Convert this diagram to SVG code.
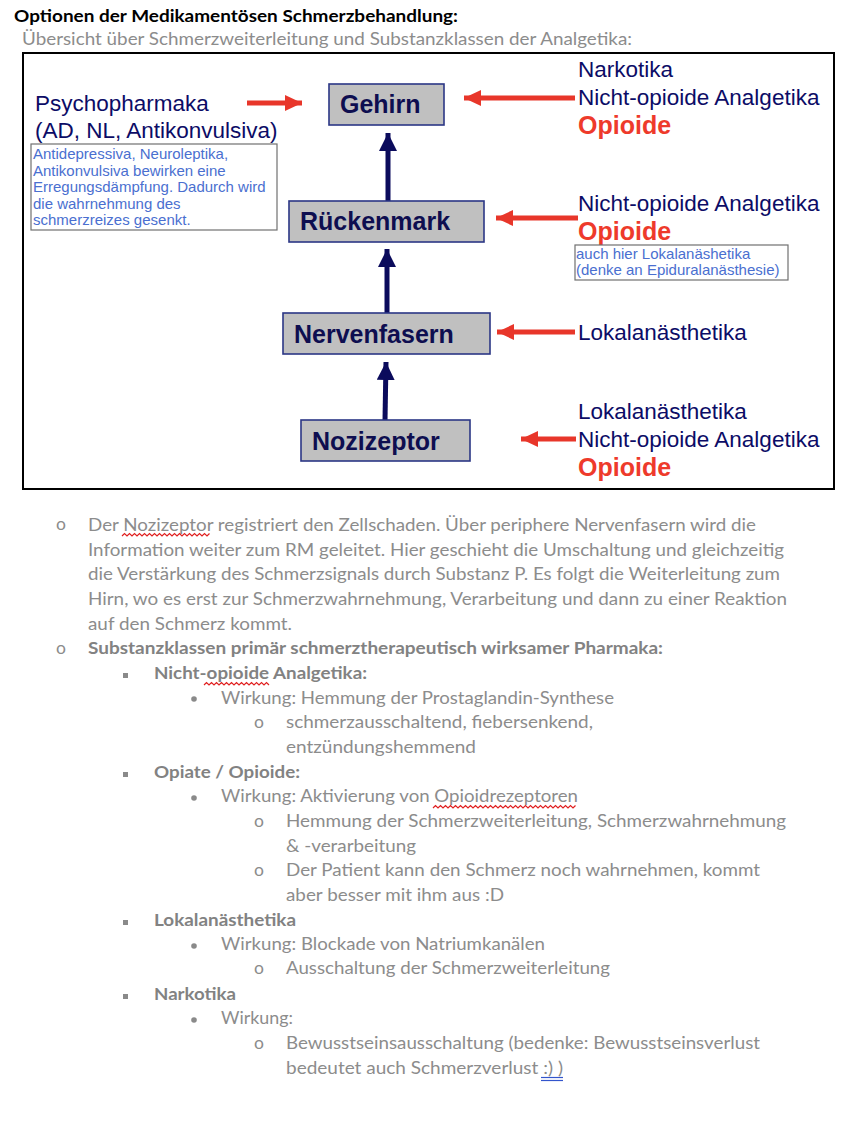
<svg xmlns="http://www.w3.org/2000/svg" width="868" height="1122" viewBox="0 0 868 1122">
<defs>
<marker id="redhead" markerUnits="userSpaceOnUse" markerWidth="18" markerHeight="18" refX="17" refY="8" orient="auto"><path d="M0,0 L17,8 L0,16 Z" fill="#e8362a"/></marker>
<marker id="navyhead" markerUnits="userSpaceOnUse" markerWidth="20" markerHeight="20" refX="18" refY="9" orient="auto"><path d="M0,0 L18,9 L0,18 Z" fill="#0b0b5c"/></marker>
</defs>
<style>
.doc{font-family:Lato,"Open Sans",sans-serif;font-size:17.5px;fill:#8c8c8c}
.docb{font-family:Lato,"Open Sans",sans-serif;font-size:17.5px;fill:#828282;font-weight:bold}
.box{fill:#c0c0c0;stroke:#2b3685;stroke-width:1.6}
.lbl{font-family:"Liberation Sans",Arial,sans-serif;font-size:25px;font-weight:bold;fill:#0e0e50}
.rt{font-family:"Liberation Sans",Arial,sans-serif;font-size:22.5px;fill:#0c0c66}
.op{font-family:"Liberation Sans",Arial,sans-serif;font-size:25px;font-weight:bold;fill:#ee3a2b}
.note{font-family:"Liberation Sans",Arial,sans-serif;font-size:15px;fill:#4a6fd0}
.nbox{fill:#ffffff;stroke:#707070;stroke-width:1.2}
.red{stroke:#e8362a;stroke-width:5;fill:none}
.navy{stroke:#0b0b5c;stroke-width:5;fill:none}
.wavy{stroke:#e02020;stroke-width:1.2;fill:none}
</style>
<rect width="868" height="1122" fill="#ffffff"/>
<text x="14" y="22" font-family="Lato,'Open Sans',sans-serif" font-size="17.5" font-weight="bold" fill="#000000" textLength="444" lengthAdjust="spacingAndGlyphs">Optionen der Medikamentösen Schmerzbehandlung:</text>
<text x="22" y="45" class="doc" fill="#909090" textLength="610" lengthAdjust="spacingAndGlyphs">Übersicht über Schmerzweiterleitung und Substanzklassen der Analgetika:</text>
<rect x="23" y="53" width="811" height="436" fill="#ffffff" stroke="#000000" stroke-width="2"/>

<g id="connectors">
<line class="red" x1="247" y1="103" x2="302" y2="103" marker-end="url(#redhead)"/>
<line class="red" x1="575" y1="98" x2="464" y2="98" marker-end="url(#redhead)"/>
<line class="red" x1="578" y1="218" x2="496" y2="218" marker-end="url(#redhead)"/>
<line class="red" x1="575" y1="332" x2="497" y2="332" marker-end="url(#redhead)"/>
<line class="red" x1="576" y1="439" x2="521" y2="439" marker-end="url(#redhead)"/>
<line class="navy" x1="388" y1="201" x2="388" y2="133" marker-end="url(#navyhead)"/>
<line class="navy" x1="387" y1="313" x2="387" y2="249" marker-end="url(#navyhead)"/>
<line class="navy" x1="385" y1="420" x2="386" y2="362" marker-end="url(#navyhead)"/>
</g>

<g id="gehirn"><rect class="box" x="329" y="84" width="115" height="41"/><text class="lbl" x="340" y="113">Gehirn</text></g>
<g id="rueckenmark"><rect class="box" x="289" y="201" width="195" height="41"/><text class="lbl" x="300" y="230">Rückenmark</text></g>
<g id="nervenfasern"><rect class="box" x="283" y="313" width="207" height="41"/><text class="lbl" x="294" y="343">Nervenfasern</text></g>
<g id="nozizeptor"><rect class="box" x="301" y="420" width="169" height="41"/><text class="lbl" x="312" y="450">Nozizeptor</text></g>

<g id="psycho">
<text class="rt" x="35" y="111">Psychopharmaka</text>
<text class="rt" x="35" y="138">(AD, NL, Antikonvulsiva)</text>
<rect class="nbox" x="31" y="144" width="246" height="86"/>
<text class="note" x="33" y="159">Antidepressiva, Neuroleptika,</text>
<text class="note" x="33" y="175.5">Antikonvulsiva bewirken eine</text>
<text class="note" x="33" y="192">Erregungsdämpfung. Dadurch wird</text>
<text class="note" x="33" y="208.5">die wahrnehmung des</text>
<text class="note" x="33" y="225">schmerzreizes gesenkt.</text>
</g>
<g id="gehirn-drugs">
<text class="rt" x="578" y="77">Narkotika</text>
<text class="rt" x="578" y="105">Nicht-opioide Analgetika</text>
<text class="op" x="578" y="134">Opioide</text>
</g>
<g id="rm-drugs">
<text class="rt" x="578" y="211">Nicht-opioide Analgetika</text>
<text class="op" x="578" y="240">Opioide</text>
<rect class="nbox" x="575" y="245" width="213" height="35"/>
<text class="note" x="576" y="259">auch hier Lokalanäshetika</text>
<text class="note" x="576" y="275">(denke an Epiduralanästhesie)</text>
</g>
<g id="nf-drugs"><text class="rt" x="578" y="340">Lokalanästhetika</text></g>
<g id="noz-drugs">
<text class="rt" x="578" y="419">Lokalanästhetika</text>
<text class="rt" x="578" y="447">Nicht-opioide Analgetika</text>
<text class="op" x="578" y="476">Opioide</text>
</g>

<g id="document">
<text class="doc" x="56" y="530" font-size="14">o</text>
<text class="doc" x="88" y="531" textLength="668" lengthAdjust="spacingAndGlyphs">Der Nozizeptor registriert den Zellschaden. Über periphere Nervenfasern wird die</text>
<path class="wavy" d="M122,536 l2.5,-2.5 l2.5,2.5 l2.5,-2.5 l2.5,2.5 l2.5,-2.5 l2.5,2.5 l2.5,-2.5 l2.5,2.5 l2.5,-2.5 l2.5,2.5 l2.5,-2.5 l2.5,2.5 l2.5,-2.5 l2.5,2.5 l2.5,-2.5 l2.5,2.5 l2.5,-2.5 l2.5,2.5 l2.5,-2.5 l2.5,2.5 l2.5,-2.5 l2.5,2.5 l2.5,-2.5 l2.5,2.5 l2.5,-2.5 l2.5,2.5 l2.5,-2.5 l2.5,2.5 l2.5,-2.5 l2.5,2.5 l2.5,-2.5 l2.5,2.5 l2.5,-2.5 l2.5,2.5 l2.5,-2.5"/>
<text class="doc" x="88" y="556" textLength="696" lengthAdjust="spacingAndGlyphs">Information weiter zum RM geleitet. Hier geschieht die Umschaltung und gleichzeitig</text>
<text class="doc" x="88" y="580" textLength="692" lengthAdjust="spacingAndGlyphs">die Verstärkung des Schmerzsignals durch Substanz P. Es folgt die Weiterleitung zum</text>
<text class="doc" x="88" y="605" textLength="699" lengthAdjust="spacingAndGlyphs">Hirn, wo es erst zur Schmerzwahrnehmung, Verarbeitung und dann zu einer Reaktion</text>
<text class="doc" x="88" y="630" textLength="204" lengthAdjust="spacingAndGlyphs">auf den Schmerz kommt.</text>
<text class="doc" x="56" y="654" font-size="14">o</text>
<text class="docb" x="88" y="654" textLength="575" lengthAdjust="spacingAndGlyphs">Substanzklassen primär schmerztherapeutisch wirksamer Pharmaka:</text>

<rect x="123" y="673" width="5" height="5" fill="#8a8a8a"/>
<text class="docb" x="154" y="679" textLength="213" lengthAdjust="spacingAndGlyphs">Nicht-opioide Analgetika:</text>
<path class="wavy" d="M204,685 l2.5,-2.5 l2.5,2.5 l2.5,-2.5 l2.5,2.5 l2.5,-2.5 l2.5,2.5 l2.5,-2.5 l2.5,2.5 l2.5,-2.5 l2.5,2.5 l2.5,-2.5 l2.5,2.5 l2.5,-2.5 l2.5,2.5 l2.5,-2.5 l2.5,2.5 l2.5,-2.5 l2.5,2.5 l2.5,-2.5 l2.5,2.5 l2.5,-2.5 l2.5,2.5 l2.5,-2.5 l2.5,2.5 l2.5,-2.5 l2.5,2.5"/>
<circle cx="194" cy="699" r="2.8" fill="#8a8a8a"/>
<text class="doc" x="221" y="704" textLength="393" lengthAdjust="spacingAndGlyphs">Wirkung: Hemmung der Prostaglandin-Synthese</text>
<text class="doc" x="254" y="728" font-size="14">o</text>
<text class="doc" x="286" y="728" textLength="307" lengthAdjust="spacingAndGlyphs">schmerzausschaltend, fiebersenkend,</text>
<text class="doc" x="286" y="753" textLength="190" lengthAdjust="spacingAndGlyphs">entzündungshemmend</text>

<rect x="123" y="772" width="5" height="5" fill="#8a8a8a"/>
<text class="docb" x="154" y="778" textLength="146" lengthAdjust="spacingAndGlyphs">Opiate / Opioide:</text>
<circle cx="194" cy="798" r="2.8" fill="#8a8a8a"/>
<text class="doc" x="221" y="802" textLength="357" lengthAdjust="spacingAndGlyphs">Wirkung: Aktivierung von Opioidrezeptoren</text>
<path class="wavy" d="M433,808 l2.5,-2.5 l2.5,2.5 l2.5,-2.5 l2.5,2.5 l2.5,-2.5 l2.5,2.5 l2.5,-2.5 l2.5,2.5 l2.5,-2.5 l2.5,2.5 l2.5,-2.5 l2.5,2.5 l2.5,-2.5 l2.5,2.5 l2.5,-2.5 l2.5,2.5 l2.5,-2.5 l2.5,2.5 l2.5,-2.5 l2.5,2.5 l2.5,-2.5 l2.5,2.5 l2.5,-2.5 l2.5,2.5 l2.5,-2.5 l2.5,2.5 l2.5,-2.5 l2.5,2.5 l2.5,-2.5 l2.5,2.5 l2.5,-2.5 l2.5,2.5 l2.5,-2.5 l2.5,2.5 l2.5,-2.5 l2.5,2.5 l2.5,-2.5 l2.5,2.5 l2.5,-2.5 l2.5,2.5 l2.5,-2.5 l2.5,2.5 l2.5,-2.5 l2.5,2.5 l2.5,-2.5 l2.5,2.5 l2.5,-2.5 l2.5,2.5 l2.5,-2.5 l2.5,2.5 l2.5,-2.5 l2.5,2.5 l2.5,-2.5 l2.5,2.5 l2.5,-2.5 l2.5,2.5 l2.5,-2.5"/>
<text class="doc" x="254" y="827" font-size="14">o</text>
<text class="doc" x="286" y="827" textLength="500" lengthAdjust="spacingAndGlyphs">Hemmung der Schmerzweiterleitung, Schmerzwahrnehmung</text>
<text class="doc" x="286" y="852" textLength="130" lengthAdjust="spacingAndGlyphs">&amp; -verarbeitung</text>
<text class="doc" x="254" y="876" font-size="14">o</text>
<text class="doc" x="286" y="876" textLength="474" lengthAdjust="spacingAndGlyphs">Der Patient kann den Schmerz noch wahrnehmen, kommt</text>
<text class="doc" x="286" y="901" textLength="218" lengthAdjust="spacingAndGlyphs">aber besser mit ihm aus :D</text>

<rect x="123" y="920" width="5" height="5" fill="#8a8a8a"/>
<text class="docb" x="154" y="926" textLength="142" lengthAdjust="spacingAndGlyphs">Lokalanästhetika</text>
<circle cx="194" cy="946" r="2.8" fill="#8a8a8a"/>
<text class="doc" x="221" y="950" textLength="324" lengthAdjust="spacingAndGlyphs">Wirkung: Blockade von Natriumkanälen</text>
<text class="doc" x="254" y="974" font-size="14">o</text>
<text class="doc" x="286" y="974" textLength="324" lengthAdjust="spacingAndGlyphs">Ausschaltung der Schmerzweiterleitung</text>

<rect x="123" y="994" width="5" height="5" fill="#8a8a8a"/>
<text class="docb" x="154" y="1000" textLength="82" lengthAdjust="spacingAndGlyphs">Narkotika</text>
<circle cx="194" cy="1020" r="2.8" fill="#8a8a8a"/>
<text class="doc" x="221" y="1024" textLength="72" lengthAdjust="spacingAndGlyphs">Wirkung:</text>
<text class="doc" x="254" y="1049" font-size="14">o</text>
<text class="doc" x="286" y="1049" textLength="474" lengthAdjust="spacingAndGlyphs">Bewusstseinsausschaltung (bedenke: Bewusstseinsverlust</text>
<text class="doc" x="286" y="1074" textLength="277" lengthAdjust="spacingAndGlyphs">bedeutet auch Schmerzverlust :) )</text>
<line x1="541" y1="1077.5" x2="563" y2="1077.5" stroke="#3355cc" stroke-width="1.2"/>
<line x1="541" y1="1080.5" x2="563" y2="1080.5" stroke="#3355cc" stroke-width="1.2"/>
</g>
</svg>
